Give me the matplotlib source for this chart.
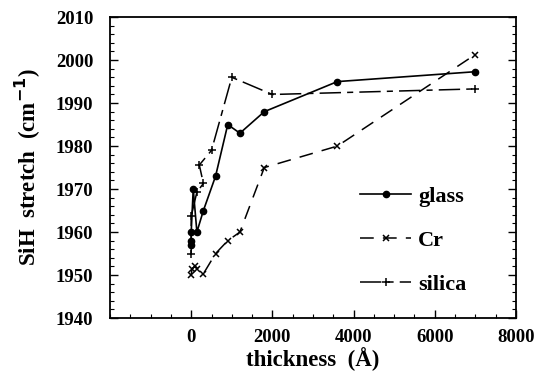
import numpy as np
import matplotlib.pyplot as plt
from matplotlib.ticker import MultipleLocator

# values
glass_x = [0, 0, 0, 50, 140, 300, 600, 900, 1200, 1800, 3600, 7000]
glass_y = [1957, 1958, 1960, 1970, 1960, 1965, 1973, 1985, 1983, 1988, 1995, 1997.3]

cr_x = [0, 20, 100, 150, 300, 600, 900, 1200, 1800, 3600, 7000]
cr_y = [1950, 1951.5, 1952, 1951.5, 1950.3, 1955, 1958, 1960, 1975, 1980, 2001.3]

silica_x = [0, 0, 140, 300, 200, 500, 1000, 2000, 7000]
silica_y = [1955, 1963.7, 1969.3, 1971.3, 1975.6, 1979, 1996, 1992, 1993.3]

plt.rcParams['font.family'] = ['Liberation Serif', 'DejaVu Serif']
plt.rcParams['font.weight'] = 'bold'

fig = plt.figure(figsize=(5.38, 3.8), dpi=100)
ax = fig.add_axes([0.2045, 0.163, 0.7545, 0.792])

ax.plot(glass_x, glass_y, color='black', lw=1.2, marker='o', ms=4.5, label='glass')
ax.plot(cr_x, cr_y, color='black', lw=1.1, marker='x', ms=5, mew=1.1,
        dashes=(9, 6), label='Cr')
ax.plot(silica_x, silica_y, color='black', lw=1.1, marker='+', ms=6, mew=1.1,
        dashes=(14, 4, 4, 4), label='silica')

ax.set_xlim(-2000, 8000)
ax.set_ylim(1940, 2010)
ax.xaxis.set_major_locator(MultipleLocator(2000))
ax.xaxis.set_minor_locator(MultipleLocator(500))
ax.yaxis.set_major_locator(MultipleLocator(10))
ax.yaxis.set_minor_locator(MultipleLocator(2))
ax.set_xticks([0, 2000, 4000, 6000, 8000])
ax.tick_params(which='both', direction='in', top=False, right=True)
ax.tick_params(which='major', length=6, width=1, labelsize=13.5)
ax.tick_params(axis='y', which='major', pad=12)
ax.tick_params(axis='x', which='major', pad=8)
ax.tick_params(which='minor', length=3, width=0.8)
for s in ax.spines.values():
    s.set_linewidth(1.3)

ax.set_xlabel('thickness  (Å)', fontsize=16.5, fontweight='bold', labelpad=1)
ax.set_ylabel('SiH  stretch  (cm$^{\\mathbf{-1}}$)', fontsize=16.5, fontweight='bold', labelpad=9)

ax.legend(loc='lower right', frameon=False, fontsize=16, handlelength=2.3,
          handletextpad=0.3, labelspacing=1.05, borderpad=0,
          bbox_to_anchor=(0.905, 0.04))

fig.savefig('out.png', dpi=100)
